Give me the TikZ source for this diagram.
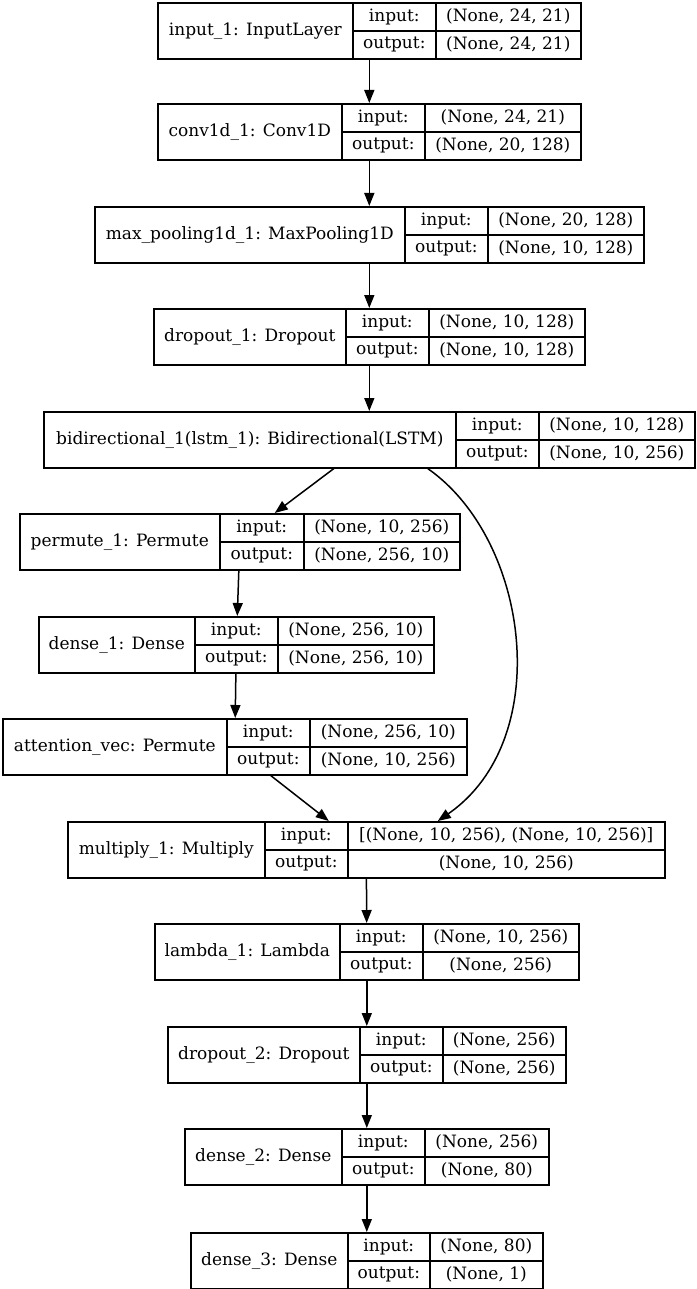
\documentclass[tikz,border=0pt]{standalone}
\usepackage{fontspec}
\setmainfont{DejaVu Serif}
\usetikzlibrary{arrows.meta}
\tikzset{
	layerbox/.style={rectangle,draw=black,line width=1.6pt,anchor=north west,inner sep=0pt},
	cellbox/.style={rectangle,draw=black,line width=1.6pt,anchor=north west,inner sep=0pt},
	flowline/.style={line width=1.5pt,-{Triangle[length=13pt,width=10pt]}}
}
% #1 name, #2 title, #3 input shape, #4 output shape,
% #5 left, #6 first divider, #7 second divider, #8 right, #9 top
\newcommand{\kerasbox}[9]{%
	\node[layerbox,minimum width=#8pt-#5pt,minimum height=56pt] (#1) at (#5,#9) {};
	\node[cellbox,minimum width=#6pt-#5pt,minimum height=56pt] (#1-name) at (#5,#9) {#2};
	\node[cellbox,minimum width=#7pt-#6pt,minimum height=28pt] (#1-inlbl) at (#6,#9) {input:};
	\node[cellbox,minimum width=#7pt-#6pt,minimum height=28pt] (#1-outlbl) at (#6,#9+28) {output:};
	\node[cellbox,minimum width=#8pt-#7pt,minimum height=28pt] (#1-in) at (#7,#9) {#3};
	\node[cellbox,minimum width=#8pt-#7pt,minimum height=28pt] (#1-out) at (#7,#9+28) {#4};
}

\begin{document}
\begin{tikzpicture}[x=1pt,y=-1pt]
	\fontsize{17}{20}\selectfont
	\useasboundingbox (0,0) rectangle (696,1289);
	\kerasbox{input}{input\_1: InputLayer}{(None, 24, 21)}{(None, 24, 21)}{157}{352}{435}{580}{2}
	\kerasbox{conv}{conv1d\_1: Conv1D}{(None, 24, 21)}{(None, 20, 128)}{157}{341}{424}{580}{103}
	\kerasbox{maxpool}{max\_pooling1d\_1: MaxPooling1D}{(None, 20, 128)}{(None, 10, 128)}{94}{404}{487}{643}{206}
	\kerasbox{dropa}{dropout\_1: Dropout}{(None, 10, 128)}{(None, 10, 128)}{153}{345}{428}{584}{308}
	\kerasbox{bidir}{bidirectional\_1(lstm\_1): Bidirectional(LSTM)}{(None, 10, 128)}{(None, 10, 256)}{43}{455}{538}{694}{411}
	\kerasbox{permute}{permute\_1: Permute}{(None, 10, 256)}{(None, 256, 10)}{19}{219}{303}{459}{513}
	\kerasbox{densea}{dense\_1: Dense}{(None, 256, 10)}{(None, 256, 10)}{38}{194}{277}{433}{616}
	\kerasbox{attvec}{attention\_vec: Permute}{(None, 256, 10)}{(None, 10, 256)}{2}{226}{309}{466}{718}
	\kerasbox{multiply}{multiply\_1: Multiply}{[(None, 10, 256), (None, 10, 256)]}{(None, 10, 256)}{67}{264}{347}{664}{821}
	\kerasbox{lambda}{lambda\_1: Lambda}{(None, 10, 256)}{(None, 256)}{154}{339}{422}{578}{923}
	\kerasbox{dropb}{dropout\_2: Dropout}{(None, 256)}{(None, 256)}{167}{359}{442}{565}{1026}
	\kerasbox{denseb}{dense\_2: Dense}{(None, 256)}{(None, 80)}{184}{341}{424}{548}{1128}
	\kerasbox{densec}{dense\_3: Dense}{(None, 80)}{(None, 1)}{190}{347}{429}{542}{1232}
	% connections
	\draw[flowline] (input)--(conv);
	\draw[flowline] (conv)--(maxpool);
	\draw[flowline] (maxpool)--(dropa);
	\draw[flowline] (dropa)--(bidir);
	\draw[flowline] ([xshift=-35.5pt]bidir.south)--([xshift=35pt]permute.north);
	\draw[flowline] ([xshift=58.5pt]bidir.south) .. controls (530,540) and (555,740) .. ([xshift=71.5pt]multiply.north);
	\draw[flowline] (permute)--(densea);
	\draw[flowline] (densea)--(attvec);
	\draw[flowline] ([xshift=36pt]attvec.south)--([xshift=-37.5pt]multiply.north);
	\draw[flowline] (multiply)--(lambda);
	\draw[flowline] (lambda)--(dropb);
	\draw[flowline] (dropb)--(denseb);
	\draw[flowline] (denseb)--(densec);
\end{tikzpicture}
\end{document}
